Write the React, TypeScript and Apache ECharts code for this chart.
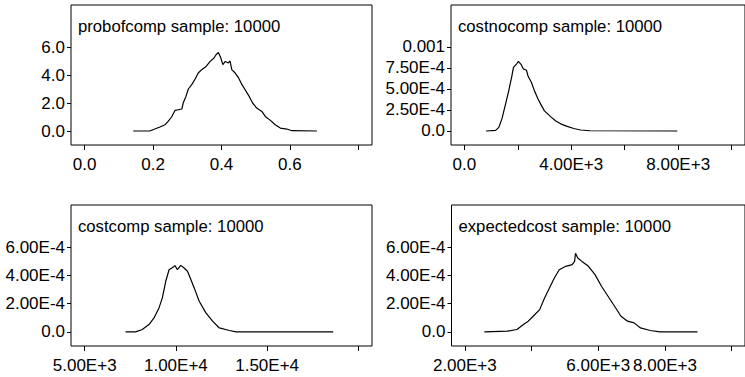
import React, { useEffect, useRef } from "react";
import * as echarts from "echarts";

// ---- Panel titles ----
const titles = [
  "probofcomp sample: 10000",
  "costnocomp sample: 10000",
  "costcomp sample: 10000",
  "expectedcost sample: 10000",
];

// ---- probofcomp density ----
const p1X = [0.142, 0.19, 0.205, 0.22, 0.235, 0.244, 0.254, 0.264, 0.274, 0.284, 0.288, 0.296, 0.303, 0.313, 0.323, 0.332, 0.342, 0.355, 0.367, 0.378, 0.384, 0.391, 0.398, 0.404, 0.411, 0.42, 0.425, 0.43, 0.44, 0.45, 0.46, 0.469, 0.481, 0.491, 0.503, 0.518, 0.528, 0.543, 0.557, 0.572, 0.591, 0.606, 0.679];
const p1Y = [0, 0, 0.14, 0.29, 0.45, 0.69, 1.0, 1.47, 1.52, 1.57, 2.0, 2.47, 3.0, 3.31, 3.71, 4.14, 4.38, 4.61, 4.97, 5.21, 5.45, 5.61, 5.21, 4.74, 4.97, 4.86, 5.0, 4.38, 4.14, 3.79, 3.31, 2.95, 2.47, 2.0, 1.64, 1.4, 1.04, 0.76, 0.45, 0.21, 0.14, 0.02, 0];

// ---- costnocomp density ----
const p2X = [815, 1169, 1290, 1410, 1534, 1655, 1775, 1837, 1958, 2020, 2119, 2203, 2324, 2385, 2506, 2630, 2751, 2871, 2996, 3116, 3237, 3419, 3602, 3847, 4091, 4350, 4700, 7964];
const p2Y = [0, 0.000007, 0.000043, 0.00015, 0.000311, 0.000472, 0.000651, 0.000758, 0.0008, 0.00083, 0.000794, 0.00074, 0.000723, 0.000651, 0.00058, 0.000472, 0.000383, 0.000311, 0.00024, 0.000204, 0.000168, 0.00012, 0.000085, 0.000055, 0.00003, 0.000012, 0.000003, 0];

// ---- costcomp density ----
const p3X = [7240, 7790, 8155, 8525, 8800, 9075, 9257, 9444, 9626, 9800, 9950, 10083, 10270, 10452, 10634, 10821, 11003, 11278, 11645, 12010, 12380, 12930, 13300, 18620];
const p3Y = [0, 0, 0.000017, 0.000052, 0.000099, 0.00017, 0.000241, 0.000359, 0.000441, 0.000455, 0.00047, 0.000441, 0.000472, 0.000453, 0.00043, 0.000371, 0.000312, 0.000217, 0.000135, 0.000076, 0.000028, 0.00001, 0, 0];

// ---- expectedcost density ----
const p4X = [2585, 3270, 3562, 3756, 3902, 4048, 4244, 4390, 4537, 4683, 4830, 5025, 5219, 5290, 5318, 5385, 5511, 5707, 5903, 6097, 6293, 6489, 6682, 6878, 7074, 7267, 7560, 7852, 8975];
const p4Y = [0, 0.000005, 0.000017, 0.000052, 0.000076, 0.000111, 0.000158, 0.000241, 0.000312, 0.000382, 0.000441, 0.000465, 0.000477, 0.0005, 0.000557, 0.000524, 0.0005, 0.000465, 0.000406, 0.000324, 0.000253, 0.000182, 0.000111, 0.000076, 0.000064, 0.000028, 0.00001, 0, 0];

// ---- axis ranges ----
const xRanges = [[-0.04, 0.84], [-500, 10500], [4250, 20750], [1600, 10400]];
const yRanges = [[-1, 9], [-0.00016667, 0.0015], [-0.0001, 0.0009], [-0.0001, 0.0009]];

// ---- ticks and tick labels ----
const xTickValues = [
  [0, 0.2, 0.4, 0.6, 0.8],
  [0, 2000, 4000, 6000, 8000, 10000],
  [5000, 10000, 15000, 20000],
  [2000, 4000, 6000, 8000, 10000],
];
const xLabelValues = [
  [0, 0.2, 0.4, 0.6],
  [0, 4000, 8000],
  [5000, 10000, 15000],
  [2000, 6000, 8000],
];
const xLabelTexts = [
  ["0.0", "0.2", "0.4", "0.6"],
  ["0.0", "4.00E+3", "8.00E+3"],
  ["5.00E+3", "1.00E+4", "1.50E+4"],
  ["2.00E+3", "6.00E+3", "8.00E+3"],
];
const yLabelValues = [
  [0, 2, 4, 6],
  [0, 0.00025, 0.0005, 0.00075, 0.001],
  [0, 0.0002, 0.0004, 0.0006],
  [0, 0.0002, 0.0004, 0.0006],
];
const yLabelTexts = [
  ["0.0", "2.0", "4.0", "6.0"],
  ["0.0", "2.50E-4", "5.00E-4", "7.50E-4", "0.001"],
  ["0.0", "2.00E-4", "4.00E-4", "6.00E-4"],
  ["0.0", "2.00E-4", "4.00E-4", "6.00E-4"],
];

const seriesX = [p1X, p2X, p3X, p4X];
const seriesY = [p1Y, p2Y, p3Y, p4Y];

const FONT = "'Liberation Sans', Arial, Helvetica, sans-serif";
const FS = 17;

const lookup = (vals: number[], texts: string[]) => (v: number) => {
  for (let i = 0; i < vals.length; i++) {
    if (Math.abs(vals[i] - v) <= Math.abs(vals[i]) * 1e-6 + 1e-12) return texts[i];
  }
  return "";
};

export default function App() {
  const ref = useRef<HTMLDivElement>(null);
  useEffect(() => {
    document.body.style.margin = "0";
    if (!ref.current) return;
    const chart = echarts.init(ref.current, null, { renderer: "svg" });
    const gridPos = [
      { left: 71, top: 5, width: 301, height: 140 },
      { left: 451, top: 5, width: 301, height: 140 },
      { left: 71, top: 205, width: 301, height: 141 },
      { left: 451.5, top: 205, width: 301, height: 141 },
    ];
    const option: any = {
      animation: false,
      backgroundColor: "#fff",
      title: titles.map((t, i) => ({
        text: t,
        left: gridPos[i].left + 7,
        top: gridPos[i].top + 13,
        padding: 0,
        textStyle: { fontSize: 16.7, fontWeight: "normal", color: "#000", fontFamily: FONT },
      })),
      grid: gridPos.map((g) => ({
        ...g,
        show: true,
        borderColor: "#000",
        borderWidth: 1,
        backgroundColor: "transparent",
      })),
      xAxis: gridPos.map((_, i) => ({
        type: "value",
        gridIndex: i,
        position: "bottom",
        min: xRanges[i][0],
        max: xRanges[i][1],
        axisLine: { show: false, onZero: false },
        splitLine: { show: false },
        axisTick: {
          show: true,
          length: 5,
          customValues: xTickValues[i],
          lineStyle: { color: "#000", width: 1 },
        },
        axisLabel: {
          show: true,
          margin: 11,
          customValues: xLabelValues[i],
          formatter: lookup(xLabelValues[i], xLabelTexts[i]),
          color: "#000",
          fontSize: FS,
          fontFamily: FONT,
        },
      })),
      yAxis: gridPos.map((_, i) => ({
        type: "value",
        gridIndex: i,
        position: "left",
        min: yRanges[i][0],
        max: yRanges[i][1],
        axisLine: { show: false, onZero: false },
        splitLine: { show: false },
        axisTick: {
          show: true,
          length: 4,
          customValues: yLabelValues[i],
          lineStyle: { color: "#000", width: 1 },
        },
        axisLabel: {
          show: true,
          margin: 6,
          customValues: yLabelValues[i],
          formatter: lookup(yLabelValues[i], yLabelTexts[i]),
          color: "#000",
          fontSize: FS,
          fontFamily: FONT,
        },
      })),
      series: seriesX.map((xs, i) => ({
        type: "line",
        xAxisIndex: i,
        yAxisIndex: i,
        showSymbol: false,
        symbol: "none",
        lineStyle: { color: "#000", width: 1.2 },
        data: xs.map((x, j) => [x, seriesY[i][j]]),
      })),
    };
    chart.setOption(option);
    return () => chart.dispose();
  }, []);
  return <div ref={ref} style={{ width: 745, height: 377 }} />;
}
